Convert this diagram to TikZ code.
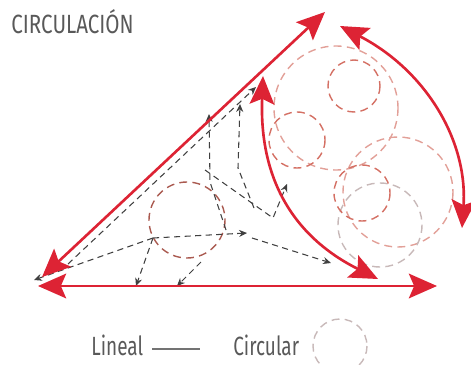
\documentclass[tikz,border=0pt]{standalone}
\usepackage{fontspec}
\setmainfont{Fira Sans}
\usepackage{tikz}
\usetikzlibrary{arrows.meta}

\newcommand{\narrow}[2][0.72]{\scalebox{#1}[1]{#2}}

\begin{document}
\begin{tikzpicture}[x=0.02cm,y=-0.02cm,>=Stealth,
    redarrow/.style={cR,line width=1.5pt,
      {Stealth[length=16pt,width=14pt,inset=3pt]}-{Stealth[length=16pt,width=14pt,inset=3pt]}},
    flow/.style={black!75,line width=0.6pt,dash pattern=on 3.5pt off 2.5pt,
      -{Stealth[length=4.5pt,width=4pt]}},
    ring/.style={line width=0.8pt,dash pattern=on 4.5pt off 3pt},
    txt/.style={font=\fontsize{15}{15}\selectfont,text=black!65,inner sep=0pt}]
    \definecolor{cR}{RGB}{221,35,52}\definecolor{cP}{RGB}{212,112,100}
    \definecolor{cQ}{RGB}{226,160,152}\definecolor{cG}{RGB}{200,185,185}
    \useasboundingbox (0,0) rectangle (471,365);
    % ---------- title ----------
    \node[txt,anchor=base west] (title) at (11,33) {\narrow[0.78]{CIRCULACIÓN}};
    % ---------- circular zone ----------
    \draw[ring,cQ] (336,108) circle (62);
    \draw[ring,cQ] (398,192) circle (55);
    \draw[ring,cG] (380,225) circle (42);
    \draw[ring,cP] (354,86) circle (26);
    \draw[ring,cP] (297,140) circle (28);
    \draw[ring,cP] (362,193) circle (28);
    \draw[ring,cP!80!black] (187,220) circle (38);
    % ---------- linear flows ----------
    \coordinate (lt) at (34,280);
    \coordinate (ls) at (68,264);
    \coordinate (cl) at (153,238);
    \coordinate (t1) at (209,114);
    \coordinate (t2) at (240,104);
    \coordinate (t3) at (256,87);
    \coordinate (me) at (247,233);
    \coordinate (rt) at (331,263);
    \coordinate (up) at (287,184);
    \coordinate (b1) at (136,286);
    \coordinate (b2) at (177,286);
    \draw[flow] (cl) -- (lt);
    \draw[flow] (ls) -- (t3);
    \draw[flow] (226,230) -- (210,182) -- (t1);
    \draw[flow] (254,208) -- (238,168) -- (t2);
    \draw[flow] (cl) -- (me);
    \draw[flow] (252,238) -- (rt);
    \draw[flow] (205,170) -- (273,218) -- (up);
    \draw[flow] (cl) -- (b1);
    \draw[flow] (201,262) -- (b2);
    % ---------- main red arrows ----------
    \coordinate (dA) at (42,277);  \coordinate (dB) at (325,12);
    \coordinate (hA) at (38,286);  \coordinate (hB) at (437,286);
    \coordinate (iA) at (263,76);  \coordinate (iB) at (378,279);
    \coordinate (oA) at (340,26);  \coordinate (oB) at (462,228);
    \draw[redarrow] (dA) -- (dB);
    \draw[redarrow] (hA) -- (hB);
    \draw[redarrow] (iA) .. controls (258,205) and (320,250) .. (iB);
    \draw[redarrow] (oA) .. controls (425,70) and (468,140) .. (oB);
    % ---------- legend ----------
    \node[txt,anchor=base west] (lin) at (91,356) {\narrow{Lineal}};
    \draw[black!55,line width=0.9pt] (152,349) -- (200,349);
    \node[txt,anchor=base west] (circ) at (233,356) {\narrow{Circular}};
    \draw[ring,cG] (340,346) circle (27);
  \end{tikzpicture}
\end{document}
